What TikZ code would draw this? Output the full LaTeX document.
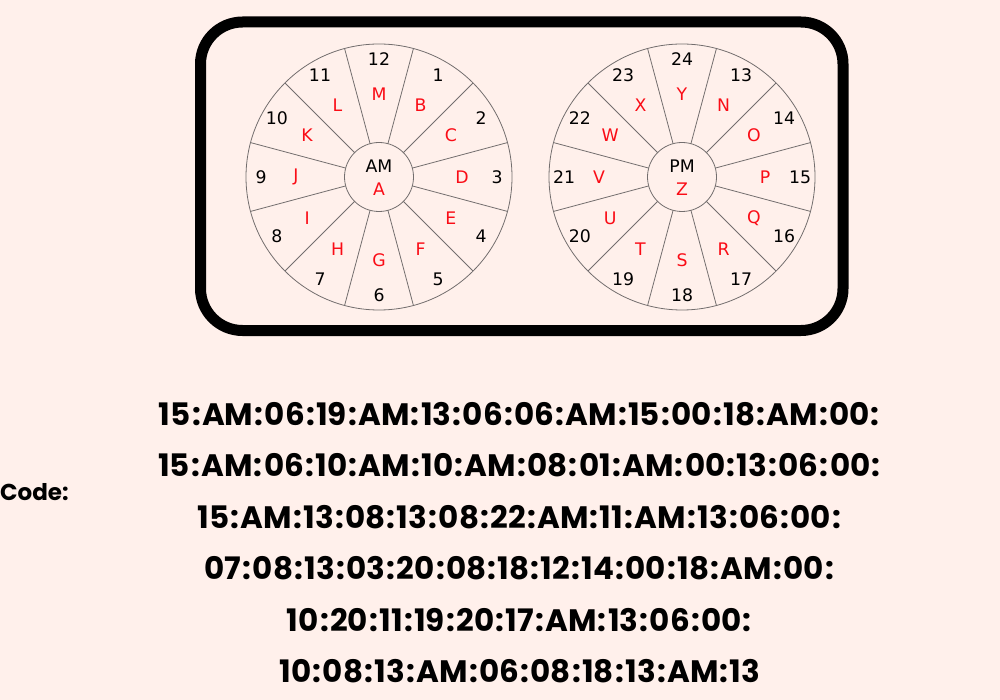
\documentclass[tikz,border=0pt]{standalone}
\usepackage{fontspec}
\usetikzlibrary{calc}
\newfontfamily\wheelfont{DejaVu Sans}
\newfontfamily\codefont{Poppins}
\newcommand\cc{\kern1.3pt:\kern1.3pt}
\definecolor{bg}{RGB}{255,240,235}
\definecolor{lettred}{RGB}{250,12,22}
\definecolor{wheelline}{RGB}{115,110,110}
\tikzset{
  frame/.style={draw=black, line width=11pt, rounded corners=42pt, inner sep=0pt, outer sep=0pt},
  wheel/.style={circle, draw=wheelline, line width=0.8pt, inner sep=0pt, outer sep=0pt},
  spoke/.style={draw=wheelline, line width=0.8pt},
  num/.style={font=\wheelfont\fontsize{17.3}{19}\selectfont, text=black, inner sep=0pt},
  lett/.style={font=\wheelfont\fontsize{17.3}{19}\selectfont, text=lettred, inner sep=0pt},
  codeline/.style={font=\codefont\bfseries\fontsize{31}{34}\selectfont, anchor=base, inner sep=0pt},
  codelabel/.style={font=\codefont\bfseries\fontsize{23}{25}\selectfont, anchor=base west, inner sep=0pt}
}
\begin{document}
\begin{tikzpicture}[x=1pt,y=-1pt]
\fill[bg] (0,0) rectangle (1000,700);
\useasboundingbox (0,0) rectangle (1000,700);
% frame
\node[frame, minimum width=642.5pt, minimum height=308.5pt] (frame) at (521.75,176.25) {};
% left wheel
\node[wheel, minimum size=266pt] (lw) at (379,177) {};
\node[wheel, minimum size=69pt] (lhub) at (379,177) {};
\foreach \a in {15,45,...,345} { \draw[spoke] (lhub.\a) -- (lw.\a); }
\begin{scope}[shift={(379,177)}]
\foreach \h/\L in {1/B,2/C,3/D,4/E,5/F,6/G,7/H,8/I,9/J,10/K,11/L,12/M} {
  \node[num] (ln\h) at ({30*\h-90}:118) {\h};
  \node[lett] (ll\h) at ({30*\h-90}:83) {\L};
}
\node[num] (lam) at (0,-10.5) {AM};
\node[lett] (la) at (0,12.5) {A};
\end{scope}
% right wheel
\node[wheel, minimum size=266pt] (rw) at (682,177) {};
\node[wheel, minimum size=69pt] (rhub) at (682,177) {};
\foreach \a in {15,45,...,345} { \draw[spoke] (rhub.\a) -- (rw.\a); }
\begin{scope}[shift={(682,177)}]
\foreach \h/\n/\L in {1/13/N,2/14/O,3/15/P,4/16/Q,5/17/R,6/18/S,7/19/T,8/20/U,9/21/V,10/22/W,11/23/X,12/24/Y} {
  \node[num] (rn\h) at ({30*\h-90}:118) {\n};
  \node[lett] (rl\h) at ({30*\h-90}:83) {\L};
}
\node[num] (rpm) at (0,-10.5) {PM};
\node[lett] (rz) at (0,12.5) {Z};
\end{scope}
% code
\node[codelabel] (codelbl) at (0,500) {Code:};
\node[codeline] (c1) at (520,425) {15\cc AM\cc 06\cc 19\cc AM\cc 13\cc 06\cc 06\cc AM\cc 15\cc 00\cc 18\cc AM\cc 00\cc};
\node[codeline] (c2) at (520,476.5) {15\cc AM\cc 06\cc 10\cc AM\cc 10\cc AM\cc 08\cc 01\cc AM\cc 00\cc 13\cc 06\cc 00\cc};
\node[codeline] (c3) at (520,528) {15\cc AM\cc 13\cc 08\cc 13\cc 08\cc 22\cc AM\cc 11\cc AM\cc 13\cc 06\cc 00\cc};
\node[codeline] (c4) at (520,579.5) {07\cc 08\cc 13\cc 03\cc 20\cc 08\cc 18\cc 12\cc 14\cc 00\cc 18\cc AM\cc 00\cc};
\node[codeline] (c5) at (520,631) {10\cc 20\cc 11\cc 19\cc 20\cc 17\cc AM\cc 13\cc 06\cc 00\cc};
\node[codeline] (c6) at (520,682.5) {10\cc 08\cc 13\cc AM\cc 06\cc 08\cc 18\cc 13\cc AM\cc 13};
\end{tikzpicture}
\end{document}
